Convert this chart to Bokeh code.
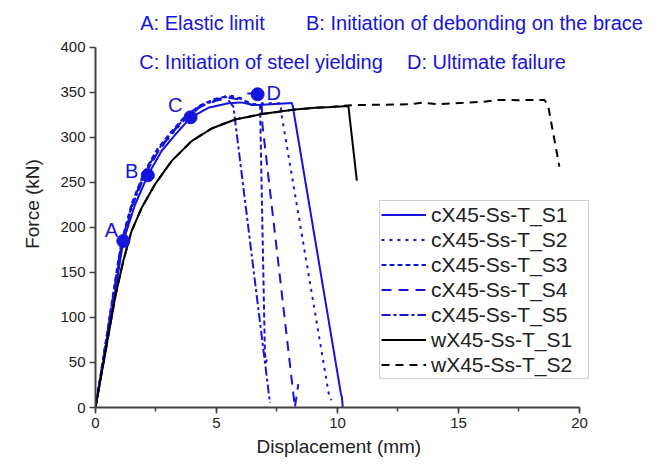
from bokeh.plotting import figure
from bokeh.models import Range1d, SingleIntervalTicker, Legend, LegendItem, Label, ColumnDataSource, Title
from bokeh.core.properties import value
from bokeh.embed import file_html
from bokeh.resources import INLINE

# ---- data (displacement in mm, force in kN) ----
c_s1_x = [0, 0.3, 0.65, 1.0, 1.15, 1.63, 2.16, 2.73, 3.29, 3.93, 4.66, 5.49, 6.0, 6.45, 6.73, 8.11, 8.15, 10.15, 10.18, 10.22]
c_s1_y = [0, 47, 102, 160, 185, 225, 258, 285, 303, 322, 333, 338, 339, 336.5, 336, 338.4, 335, 14, 12, 0]

c_s2_x = [0, 0.28, 0.62, 0.95, 1.1, 1.55, 2.05, 2.6, 3.2, 3.8, 4.4, 5.0, 5.5, 6.0, 6.45, 7.0, 7.65, 7.69, 9.66, 9.75]
c_s2_y = [0, 47, 104, 160, 183, 226, 259, 285, 305, 323, 335, 342, 347, 344, 337, 338, 338, 325, 12, 8]

c_s3_x = [0, 0.27, 0.6, 0.92, 1.07, 1.5, 2.0, 2.55, 3.15, 3.75, 4.35, 4.95, 5.5, 6.0, 6.45, 6.8, 7.0, 7.05, 7.1]
c_s3_y = [0, 47, 104, 160, 184, 227, 261, 287, 307, 325, 336, 343, 346, 343, 337, 336, 60, 50, 56]

c_s4_x = [0, 0.29, 0.63, 0.96, 1.1, 1.55, 2.05, 2.6, 3.2, 3.8, 4.4, 5.0, 5.5, 6.0, 6.45, 6.87, 6.9, 8.24, 8.38]
c_s4_y = [0, 47, 104, 160, 183, 226, 259, 285, 306, 324, 335, 341, 344, 342, 336, 336, 314, 0, 26]

c_s5_x = [0, 0.28, 0.61, 0.94, 1.08, 1.52, 2.02, 2.57, 3.17, 3.77, 4.37, 4.97, 5.4, 5.7, 7.21]
c_s5_y = [0, 47, 104, 160, 183, 227, 260, 286, 306, 324, 336, 342, 345, 334, 5]

w_s1_x = [0, 0.4, 0.83, 1.15, 1.49, 1.91, 2.46, 3.15, 3.97, 4.8, 5.77, 6.87, 8.24, 9.07, 9.8, 10.45, 10.8]
w_s1_y = [0, 60, 125, 163, 196, 222, 248, 274, 296, 310, 320, 326, 331, 333, 334, 335, 252]

w_s2_x = [0, 0.4, 0.83, 1.15, 1.49, 1.91, 2.46, 3.15, 3.97, 4.8, 5.77, 6.87, 8.24, 9.07, 9.73, 10.63, 12.0, 13.04, 13.52, 14.14, 15.2, 16.07, 16.6, 17.5, 18.55, 18.7, 19.17]
w_s2_y = [0, 60, 125, 163, 196, 222, 248, 274, 296, 310, 320, 326, 331, 333, 334, 336, 336.5, 337, 338.7, 337, 338.5, 339.8, 341.7, 341.5, 341.7, 336, 267.6]

series_names = ["cX45-Ss-T_S1", "cX45-Ss-T_S2", "cX45-Ss-T_S3", "cX45-Ss-T_S4", "cX45-Ss-T_S5",
                "wX45-Ss-T_S1", "wX45-Ss-T_S2"]

mark_x = [1.15, 2.16, 3.93, 6.70]
mark_y = [185, 258, 322.5, 348]
mark_labels = ["A", "B", "C", "D"]
d_stub_x = [6.27, 6.55]
d_stub_y = [349, 349]

note_texts = ["A: Elastic limit", "B: Initiation of debonding on the brace",
              "C: Initiation of steel yielding", "D: Ultimate failure"]

BLUE = "#1414dc"
FONT = "Liberation Sans"

p = figure(width=661, height=466, output_backend="svg", toolbar_location=None,
           x_range=Range1d(0, 23.39), y_range=Range1d(0, 452.2),
           min_border_left=95, min_border_right=0, min_border_top=0, min_border_bottom=59)
p.outline_line_color = None
p.grid.grid_line_color = None
p.background_fill_color = "white"
p.border_fill_color = "white"

p.xaxis.ticker = SingleIntervalTicker(interval=5, num_minor_ticks=2)
p.yaxis.ticker = SingleIntervalTicker(interval=50, num_minor_ticks=0)
p.xaxis.bounds = (0, 20)
p.yaxis.bounds = (0, 400)
for ax in (p.xaxis, p.yaxis):
    ax.axis_line_color = "#404040"
    ax.axis_line_width = 2
    ax.major_tick_line_color = "#404040"
    ax.major_tick_line_width = 1.5
    ax.major_tick_in = 0
    ax.major_tick_out = 6
    ax.minor_tick_line_color = "#404040"
    ax.minor_tick_line_width = 1.5
    ax.minor_tick_in = 0
    ax.minor_tick_out = 4
    ax.major_label_text_font = FONT
    ax.major_label_text_font_size = "15px"
    ax.major_label_text_color = "#202020"
    ax.axis_label_text_font = FONT
    ax.axis_label_text_font_size = "19px"
    ax.axis_label_text_font_style = "normal"
    ax.axis_label_text_color = "#202020"
p.yaxis.minor_tick_line_color = None
p.yaxis.axis_label = "Force (kN)"
p.xaxis.major_label_standoff = 4
p.yaxis.major_label_standoff = 4
p.yaxis.axis_label_standoff = 14

# x-axis title placed under the 0-20 axis span (the frame is wider than the axis)
p.add_layout(Title(text="Displacement (mm)", align="left", offset=161,
                   text_font=FONT, text_font_size="19px", text_font_style="normal",
                   text_color="#202020", standoff=7), "below")

styles = [
    (c_s1_x, c_s1_y, BLUE, "solid"),
    (c_s2_x, c_s2_y, BLUE, "3 5"),
    (c_s3_x, c_s3_y, BLUE, "5 3"),
    (c_s4_x, c_s4_y, BLUE, "10 7"),
    (c_s5_x, c_s5_y, BLUE, "9 3 3 3"),
    (w_s1_x, w_s1_y, "black", "solid"),
    (w_s2_x, w_s2_y, "black", "8 6"),
]
renderers = []
for xs, ys, col, dash in styles:
    r = p.line(xs, ys, line_color=col, line_width=2, line_dash=dash)
    renderers.append(r)

p.line(d_stub_x, d_stub_y, line_color=BLUE, line_width=2)
p.scatter(mark_x, mark_y, size=13, color=BLUE)
src = ColumnDataSource(dict(x=mark_x, y=mark_y, t=mark_labels,
                            dx=[-12, -16, -15.5, 16], dy=[-11, -4, -12, -1.5]))
p.text(x="x", y="y", text="t", x_offset="dx", y_offset="dy", source=src,
       text_font=value(FONT), text_font_size="20px", text_color=BLUE,
       text_align="center", text_baseline="middle")

note_pos = [(1.85, 427), (8.7, 427), (1.81, 384), (12.87, 384)]
for t, (nx, ny) in zip(note_texts, note_pos):
    p.add_layout(Label(x=nx, y=ny, text=t, text_font=FONT, text_font_size="20px",
                       text_color=BLUE, text_baseline="alphabetic", text_align="left"))

legend = Legend(items=[LegendItem(label=n, renderers=[r]) for n, r in zip(series_names, renderers)],
                location=(284, 28))
legend.label_text_font = FONT
legend.label_text_font_size = "21px"
legend.label_text_color = "#202020"
legend.glyph_width = 45
legend.glyph_height = 25
legend.label_height = 25
legend.label_width = 156
legend.label_standoff = 5
legend.spacing = 0
legend.padding = 1
legend.margin = 0
legend.border_line_color = "#a0a0a0"
legend.border_line_width = 1
legend.background_fill_alpha = 1
p.add_layout(legend)

open("out.html", "w").write(file_html(p, INLINE))
